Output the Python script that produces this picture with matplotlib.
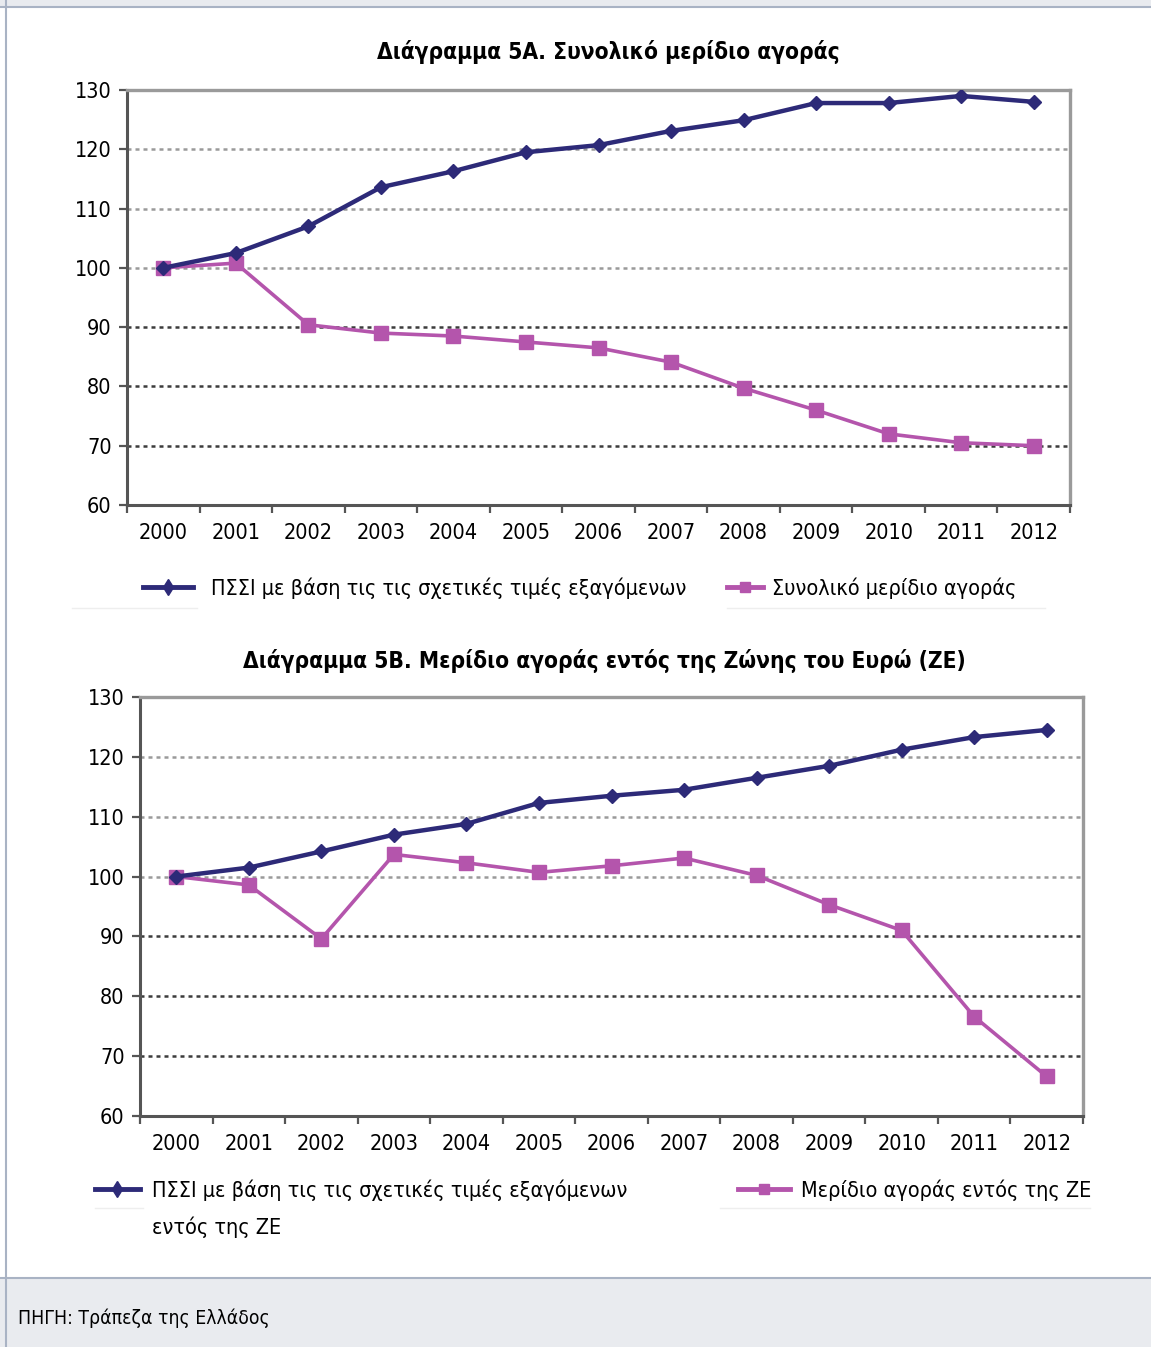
import matplotlib
matplotlib.use("Agg")
import matplotlib.pyplot as plt
from matplotlib.lines import Line2D
from matplotlib.patches import Rectangle
import numpy as np

plt.rcParams['font.family'] = ['DejaVu Sans']
plt.rcParams['font.stretch'] = 'condensed'

years = ["2000", "2001", "2002", "2003", "2004", "2005", "2006",
         "2007", "2008", "2009", "2010", "2011", "2012"]

# Chart 5A
reer_total = [100.0, 102.5, 107.0, 113.6, 116.3, 119.5, 120.7,
              123.1, 124.9, 127.8, 127.8, 129.0, 128.0]
share_total = [100.0, 100.8, 90.4, 89.0, 88.5, 87.5, 86.5,
               84.1, 79.7, 76.0, 72.0, 70.5, 70.0]

# Chart 5B
reer_ez = [100.0, 101.5, 104.2, 107.0, 108.8, 112.3, 113.5,
           114.5, 116.5, 118.5, 121.2, 123.3, 124.5]
share_ez = [100.0, 98.6, 89.6, 103.7, 102.3, 100.7, 101.8,
            103.1, 100.2, 95.3, 91.0, 76.6, 66.6]

yticks = [60, 70, 80, 90, 100, 110, 120, 130]

title_a = "Διάγραμμα 5Α. Συνολικό μερίδιο αγοράς"
title_b = "Διάγραμμα 5Β. Μερίδιο αγοράς εντός της Ζώνης του Ευρώ (ΖΕ)"
leg_a = ["ΠΣΣΙ με βάση τις τις σχετικές τιμές εξαγόμενων",
         "Συνολικό μερίδιο αγοράς"]
leg_b = ["ΠΣΣΙ με βάση τις τις σχετικές τιμές εξαγόμενων",
         "Μερίδιο αγοράς εντός της ΖΕ"]
leg_b_extra = "εντός της ΖΕ"
source = "ΠΗΓΗ: Τράπεζα της Ελλάδος"

BLUE = "#2d2a78"
PINK = "#b455ac"
W, H = 1151, 1347
LEG_FS = 15.5


def draw_chart(ax, blue_vals, pink_vals):
    x = np.arange(len(years))
    for v in yticks[1:-1]:
        ax.axhline(v, color="#9a9a9a" if v >= 100 else "#3c3c3c",
                   lw=1.8, ls=(0, (1.6, 1.6)), zorder=1)
    ax.plot(x, blue_vals, color=BLUE, lw=3.2, marker="D", ms=7.5, zorder=4)
    ax.plot(x, pink_vals, color=PINK, lw=2.6, marker="s", ms=10, zorder=3)
    ax.set_xlim(-0.5, len(years) - 0.5)
    ax.set_ylim(60, 130)
    ax.set_yticks(yticks)
    ax.set_xticks(x)
    ax.set_xticklabels(years)
    ax.set_xticks(np.arange(-0.5, len(years), 1), minor=True)
    ax.tick_params(axis="x", which="major", length=0, pad=13, labelsize=15.5)
    ax.tick_params(axis="x", which="minor", length=6, width=1.6,
                   color="#555555", direction="out")
    ax.tick_params(axis="y", length=6, width=1.6, color="#555555",
                   pad=5, labelsize=15.5)
    for s in ["left", "bottom"]:
        ax.spines[s].set_color("#555555")
        ax.spines[s].set_linewidth(2.2)
    for s in ["top", "right"]:
        ax.spines[s].set_color("#9a9a9a")
        ax.spines[s].set_linewidth(2.4)


def legend_entry(fig, color, marker, ms, label, x0, x1, xt, y):
    # x0..x1: handle span in pixels, xt: text start in pixels
    fs_px = LEG_FS * 100 / 72
    handle = Line2D([], [], color=color, lw=3.5, marker=marker, ms=ms)
    fig.legend([handle], [label], loc="center left",
               bbox_to_anchor=(x0 / W, 1 - y / H),
               bbox_transform=fig.transFigure, frameon=False,
               fontsize=LEG_FS, handlelength=(x1 - x0) / fs_px,
               handletextpad=(xt - x1) / fs_px,
               borderaxespad=0, borderpad=0)


fig = plt.figure(figsize=(W / 100, H / 100), dpi=100)

# page decoration: top band, left border, footer band
fig.patches.append(Rectangle((0, 1 - 7 / H), 1, 7 / H, transform=fig.transFigure,
                             facecolor="#e9ebef", edgecolor="none"))
fig.patches.append(Rectangle((0, 0), 1, 69 / H, transform=fig.transFigure,
                             facecolor="#e9ebef", edgecolor="none"))
fig.lines.append(Line2D([0, 1], [1 - 7 / H, 1 - 7 / H], transform=fig.transFigure,
                        color="#a9b3c4", lw=1.5))
fig.lines.append(Line2D([0, 1], [69 / H, 69 / H], transform=fig.transFigure,
                        color="#a9b3c4", lw=1.5))
fig.lines.append(Line2D([6 / W, 6 / W], [0, 1], transform=fig.transFigure,
                        color="#a9b3c4", lw=1.5))

ax_a = fig.add_axes([127 / W, 1 - 505 / H, 943 / W, 415 / H])
draw_chart(ax_a, reer_total, share_total)
fig.text(608 / W, 1 - 52 / H, title_a, ha="center", va="center",
         fontsize=16.3, fontweight="bold")
legend_entry(fig, BLUE, "d", 8, leg_a[0], 143, 193, 211, 588)
legend_entry(fig, PINK, "s", 7.5, leg_a[1], 727, 763, 772, 588)
for x0, x1 in [(72, 197), (727, 1045)]:
    fig.lines.append(Line2D([x0 / W, x1 / W], [1 - 608 / H] * 2,
                            transform=fig.transFigure, color="#eeeeee", lw=1))

ax_b = fig.add_axes([140 / W, 1 - 1116 / H, 943 / W, 419 / H])
draw_chart(ax_b, reer_ez, share_ez)
fig.text(604 / W, 1 - 661 / H, title_b, ha="center", va="center",
         fontsize=16.3, fontweight="bold")
legend_entry(fig, BLUE, "d", 8, leg_b[0], 95, 140, 152, 1190)
legend_entry(fig, PINK, "s", 7.5, leg_b[1], 738, 790, 801, 1190)
fig.text(152 / W, 1 - 1227 / H, leg_b_extra, ha="left", va="center",
         fontsize=LEG_FS)
for x0, x1 in [(95, 143), (720, 1090)]:
    fig.lines.append(Line2D([x0 / W, x1 / W], [1 - 1208 / H] * 2,
                            transform=fig.transFigure, color="#eeeeee", lw=1))

fig.text(18 / W, 1 - 1318 / H, source, ha="left", va="center", fontsize=13.9)

fig.savefig("out.png", dpi=100)
